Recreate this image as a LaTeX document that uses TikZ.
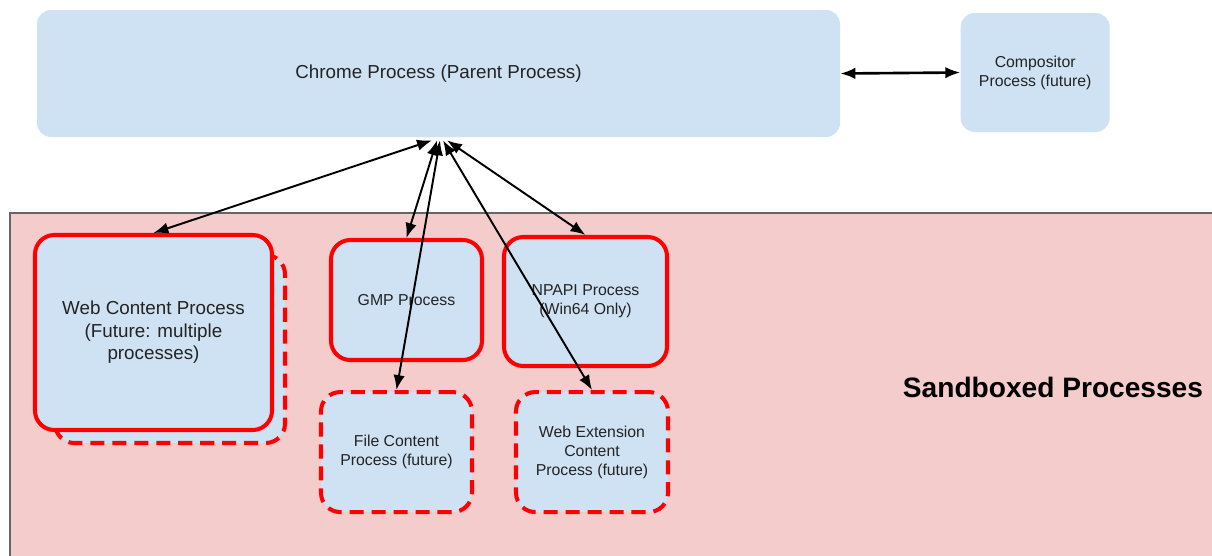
\documentclass[tikz,border=0pt]{standalone}
\usepackage{fontspec}
\setmainfont{Liberation Sans}
\usepackage{xcolor}
\usepackage{tikz}
\usetikzlibrary{arrows.meta,positioning}
\definecolor{procblue} {RGB}{207,226,243}
\definecolor{sandpink} {RGB}{244,204,204}
\definecolor{sandred}  {RGB}{255,0,0}
\definecolor{textgray} {RGB}{35,35,35}
\tikzset{
  bigfont/.style  ={font=\fontsize{10.7}{12.8}\selectfont},
  smallfont/.style={font=\fontsize{9}{10.8}\selectfont},
  procbox/.style  ={fill=procblue, rounded corners=#1, align=center,
                    text=textgray, inner sep=3pt},
  procbox/.default=8pt,
  sbxbox/.style   ={procbox=11pt, draw=sandred, line width=2.3pt, smallfont},
  futbox/.style   ={sbxbox, dash pattern=on 8pt off 4.5pt},
  sandbox/.style  ={fill=sandpink, draw=black!60, line width=0.6pt},
  biarr/.style    ={{Latex[length=8.5pt,width=6.5pt]}-{Latex[length=8.5pt,width=6.5pt]},
                    line width=1.1pt},
}

\begin{document}
\begin{tikzpicture}
  \useasboundingbox (0,0) rectangle (24.24,-11.1);
  \fill[white] (0,0) rectangle (24.24,-11.1);

  % sandbox area
  \draw[sandbox] (0.2,-4.26) rectangle (24.8,-11.6);
  \node[font=\fontsize{16}{19}\selectfont\bfseries] (sblabel) at (21.06,-7.74)
        {Sandboxed Processes};

  % parent side
  \node[procbox, bigfont, minimum width=16.06cm, minimum height=2.54cm]
        (chrome) at (8.77,-1.47) {Chrome Process (Parent Process)};
  \node[procbox, smallfont, minimum width=2.98cm, minimum height=2.38cm,
        right=2.4cm of chrome, yshift=0.02cm]
        (comp) {Compositor\\Process (future)};

  % sandboxed processes
  \node[futbox, minimum width=4.6cm, minimum height=3.76cm]
        (webshadow) at (3.4,-6.98) {};
  \node[sbxbox, bigfont, minimum width=4.74cm, minimum height=3.9cm]
        (web) at (3.07,-6.65) {Web Content Process\\(Future: multiple\\processes)};
  \node[sbxbox, minimum width=3.02cm, minimum height=2.4cm]
        (gmp) at (8.13,-6.0) {GMP Process};
  \node[sbxbox, minimum width=3.26cm, minimum height=2.58cm]
        (npapi) at (11.71,-6.03) {NPAPI Process\\(Win64 Only)};
  \node[futbox, minimum width=3.02cm, minimum height=2.4cm,
        below=0.56cm of gmp, xshift=-0.2cm]
        (file) {File Content\\Process (future)};
  \node[futbox, minimum width=3.04cm, minimum height=2.4cm,
        below=0.44cm of npapi, xshift=0.13cm]
        (webext) {Web Extension\\Content\\Process (future)};

  % hub points under the parent box
  \coordinate (hubA) at ([xshift=-0.13cm, yshift=-0.06cm]chrome.south);
  \coordinate (hubB) at ([xshift=-0.03cm, yshift=-0.06cm]chrome.south);
  \coordinate (hubC) at ([xshift=0.03cm,  yshift=-0.06cm]chrome.south);
  \coordinate (hubD) at ([xshift=0.09cm,  yshift=-0.06cm]chrome.south);
  \coordinate (hubE) at ([xshift=0.17cm,  yshift=-0.06cm]chrome.south);

  \draw[biarr, line width=1.5pt] (chrome.east) -- (comp.west);
  \draw[biarr] (hubA) -- (web.north);
  \draw[biarr] (hubB) -- (gmp.north);
  \draw[biarr] (hubC) -- (file.north);
  \draw[biarr] (hubD) -- (webext.north);
  \draw[biarr] (hubE) -- (npapi.north);
\end{tikzpicture}
\end{document}
